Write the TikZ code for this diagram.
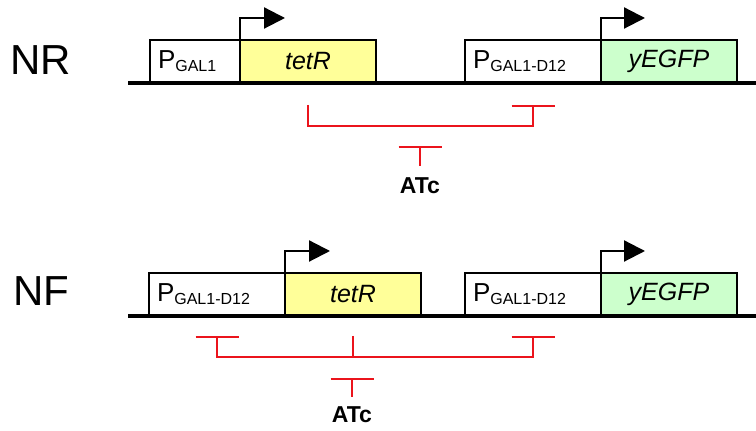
\documentclass[tikz,border=0pt]{standalone}
\usepackage{fontspec}
\setmainfont{Liberation Sans}
\usetikzlibrary{positioning,arrows.meta}
\definecolor{geneyellow}{RGB}{255,255,153}
\definecolor{genegreen}{RGB}{204,255,204}
\definecolor{repred}{RGB}{235,20,28}
\newcommand{\prom}[1]{P\raisebox{-1.6pt}{\fontsize{8}{9}\selectfont #1}}

\begin{document}
\begin{tikzpicture}[x=0.5pt,y=-0.5pt,>={Bar[width=21.5pt]},
  box/.style={draw,line width=1.35pt,minimum height=21pt,inner sep=0pt,outer sep=0pt,anchor=south west},
  promoter/.style={box,fill=white,inner xsep=4pt,align=left,font=\fontsize{13}{15}\selectfont},
  gene/.style={box,minimum width=68pt,font=\fontsize{12.5}{15}\selectfont\itshape},
  tss/.style={line width=1.1pt,-{Triangle[length=10.5pt,width=10.5pt]}},
  rep/.style={color=repred,line width=1.25pt},
  atc/.style={inner sep=0pt,font=\fontsize{11.5}{13}\selectfont\bfseries}]
\useasboundingbox (0,0) rectangle (756,431);

% NR circuit
\node[font=\fontsize{21}{25}\selectfont] (nr) at (41,60) {NR};
\node[promoter,text width=37pt] (nrProm1) at (150,82) {\prom{GAL1}};
\node[gene,fill=geneyellow,right=0pt of nrProm1] (nrTetR) {tetR};
\node[promoter,text width=60pt] (nrProm2) at (465,82) {\prom{GAL1-D12}};
\node[gene,fill=genegreen,right=0pt of nrProm2] (nrGFP) {yEGFP};
\draw[line width=2pt] (128,83) -- (756,83);
\draw[tss] (nrTetR.north west) -- ++(0,-22) -- ++(45,0);
\draw[tss] (nrGFP.north west) -- ++(0,-22) -- ++(44,0);
\draw[rep,->] ([yshift=-11.5pt]nrTetR.south) -- ++(0,21) -| ([yshift=-11.5pt]nrProm2.south);
\node[atc] (atcNR) at (420,186) {ATc};
\draw[rep,->] ([yshift=6pt]atcNR.north) -- ++(0,-20);

% NF circuit
\node[font=\fontsize{21}{25}\selectfont] (nf) at (41,291) {NF};
\node[promoter,text width=60pt] (nfProm1) at (149,315) {\prom{GAL1-D12}};
\node[gene,fill=geneyellow,right=0pt of nfProm1] (nfTetR) {tetR};
\node[promoter,text width=60pt] (nfProm2) at (465,315) {\prom{GAL1-D12}};
\node[gene,fill=genegreen,right=0pt of nfProm2] (nfGFP) {yEGFP};
\draw[line width=2pt] (128,316) -- (756,316);
\draw[tss] (nfTetR.north west) -- ++(0,-22) -- ++(45,0);
\draw[tss] (nfGFP.north west) -- ++(0,-22) -- ++(44,0);
\draw[rep,<->] ([yshift=-10.5pt]nfProm1.south) -- ++(0,21) -| ([yshift=-10.5pt]nfProm2.south);
\draw[rep] ([yshift=-10.5pt]nfTetR.south) -- ++(0,21);
\node[atc] (atcNF) at (352,415) {ATc};
\draw[rep,->] ([yshift=5pt]atcNF.north) -- ++(0,-19);
\end{tikzpicture}
\end{document}
